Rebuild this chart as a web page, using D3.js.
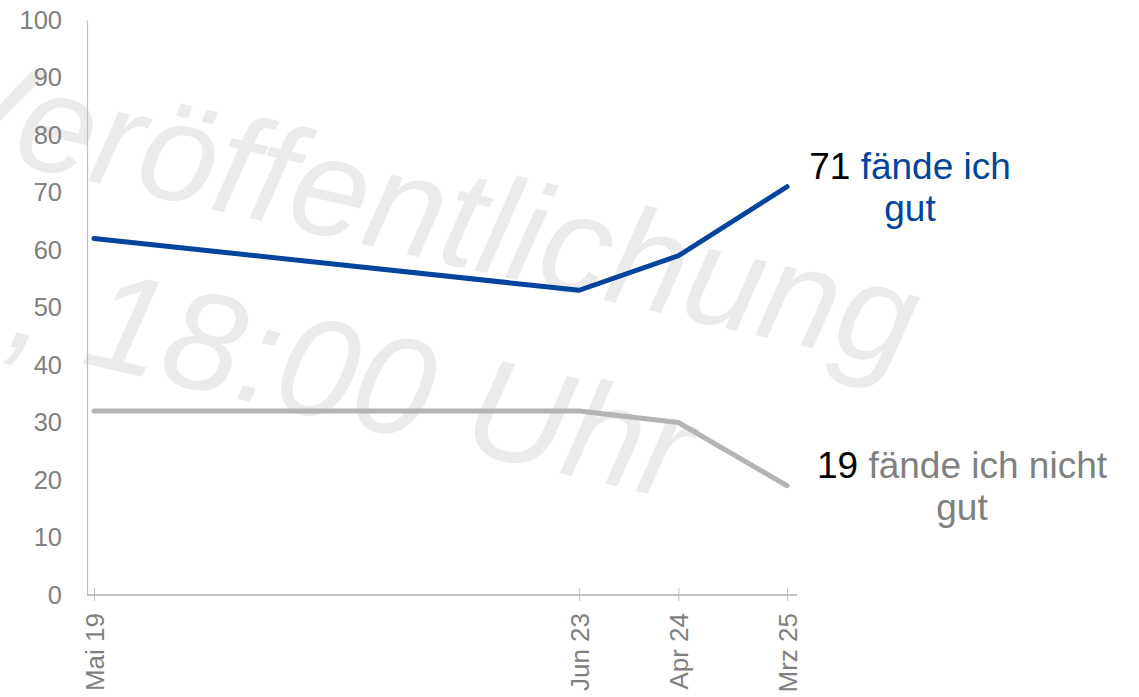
<!DOCTYPE html>
<html>
<head>
<meta charset="utf-8">
<script src="https://cdn.jsdelivr.net/npm/d3@7"></script>
<style>
  body { margin: 0; background: #fff; }
  svg { display: block; font-family: "Liberation Sans", Arial, sans-serif; }
</style>
</head>
<body>
<script>
// data
var dates = ["2019-05", "2023-06", "2024-04", "2025-03"];
var dateLabels = ["Mai 19", "Jun 23", "Apr 24", "Mrz 25"];
var gut = [62, 53, 59, 71];
var nichtGut = [32, 32, 30, 19];
var yTicks = [0, 10, 20, 30, 40, 50, 60, 70, 80, 90, 100];

var width = 1139,
    height = 697;

var parse = d3.timeParse("%Y-%m");

var svg = d3.select("body")
  .append("svg")
  .attr("width", width)
  .attr("height", height);

//scales
var x = d3.scaleTime()
  .domain([parse(dates[0]), parse(dates[dates.length - 1])])
  .range([94, 787]);

var y = d3.scaleLinear()
  .domain([0, 100])
  .range([595, 20]);

//watermark behind everything
var wm = svg.append("g")
  .attr("fill", "#ebebeb")
  .attr("font-style", "italic")
  .attr("font-size", 140);

wm.append("text")
  .attr("transform", "translate(-76,143) rotate(13)")
  .text("Veröffentlichung");

wm.append("text")
  .attr("transform", "translate(4,345) rotate(13)")
  .text(", 18:00 Uhr");

//y axis
var yAxis = svg.append("g")
  .attr("transform", "translate(87,0)")
  .call(d3.axisLeft(y).tickValues(yTicks).tickSize(0).tickPadding(25));

yAxis.select(".domain").attr("stroke", "#bfbfbf").attr("stroke-width", 1.2);
yAxis.selectAll("text")
  .attr("font-family", "Liberation Sans, Arial, sans-serif")
  .attr("font-size", 25.5)
  .attr("fill", "#7f7f7f");

//x axis line
svg.append("line")
  .attr("x1", 87).attr("x2", 797)
  .attr("y1", y(0)).attr("y2", y(0))
  .attr("stroke", "#c4c4c4")
  .attr("stroke-width", 2);

var xAxis = svg.append("g")
  .attr("transform", "translate(0," + y(0) + ")")
  .call(d3.axisBottom(x)
    .tickValues(dates.map(parse))
    .tickSize(6)
    .tickFormat(function(d, i) { return dateLabels[i]; }));

xAxis.select(".domain").remove();
xAxis.selectAll(".tick line")
  .attr("y1", -7).attr("y2", 6)
  .attr("stroke", "#bfbfbf");
xAxis.selectAll("text")
  .attr("font-family", "Liberation Sans, Arial, sans-serif")
  .attr("font-size", 26)
  .attr("fill", "#7f7f7f")
  .attr("text-anchor", "end")
  .attr("transform", "rotate(-90)")
  .attr("x", -18)
  .attr("y", 0)
  .attr("dy", "0.36em");

//lines
var line = d3.line()
  .x(function(d, i) { return x(parse(dates[i])); })
  .y(function(d) { return y(d); });

svg.append("path")
  .datum(nichtGut)
  .attr("fill", "none")
  .attr("stroke", "#b4b4b4")
  .attr("stroke-width", 5)
  .attr("stroke-linecap", "round")
  .attr("stroke-linejoin", "round")
  .attr("d", line);

svg.append("path")
  .datum(gut)
  .attr("fill", "none")
  .attr("stroke", "#00449e")
  .attr("stroke-width", 5)
  .attr("stroke-linecap", "round")
  .attr("stroke-linejoin", "round")
  .attr("d", line);

//end labels
function endLabel(cx, y1, value, words, color) {
  var t = svg.append("text")
    .attr("font-size", 37)
    .attr("text-anchor", "middle");
  var l1 = t.append("tspan").attr("x", cx).attr("y", y1);
  l1.append("tspan").attr("fill", "#000").text(value + " ");
  l1.append("tspan").attr("fill", color).text(words[0]);
  t.append("tspan").attr("x", cx).attr("y", y1 + 42)
    .attr("fill", color).text(words[1]);
}

endLabel(910, 179, gut[gut.length - 1], ["fände ich", "gut"], "#00449e");
endLabel(962, 478, nichtGut[nichtGut.length - 1], ["fände ich nicht", "gut"], "#808080");
</script>
</body>
</html>
